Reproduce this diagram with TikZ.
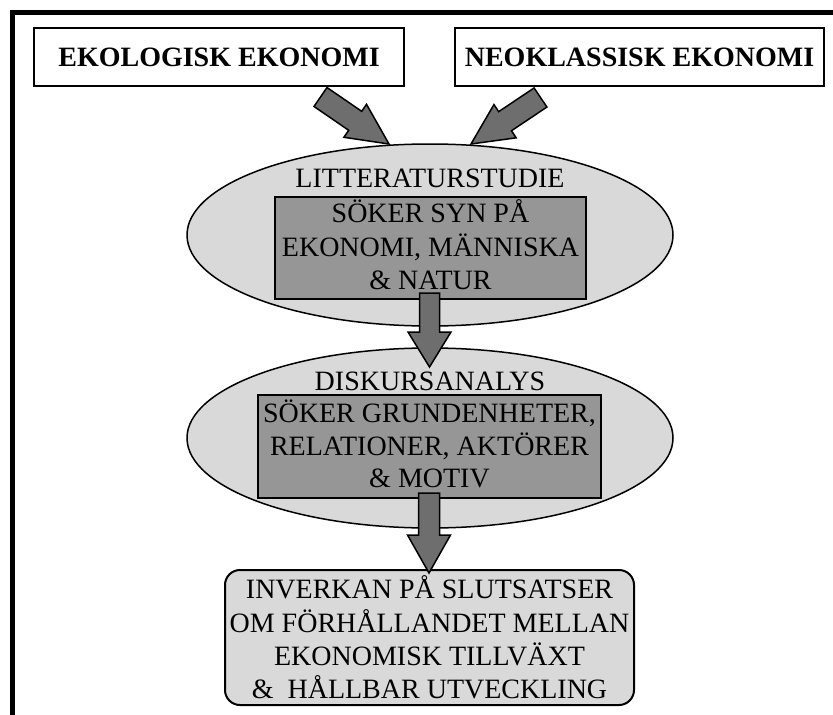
\documentclass[tikz,border=0pt]{standalone}
\usepackage{fontspec}
\setmainfont{Liberation Serif}
\usetikzlibrary{shapes.geometric,calc}
\definecolor{lightg}{HTML}{D9D9D9}
\definecolor{midg}{HTML}{969696}
\definecolor{darkg}{HTML}{6E6E6E}
\tikzset{
  txt/.style={font=\fontsize{28pt}{32.5pt}\selectfont},
  srcbox/.style={draw, line width=2pt, fill=white, minimum width=#1, minimum height=58pt, inner sep=0pt, font=\fontsize{28pt}{32pt}\selectfont\bfseries},
  oval/.style={ellipse, draw, line width=1.5pt, fill=lightg, minimum width=486pt, minimum height=#1, inner sep=0pt},
  innerbox/.style={draw, line width=2pt, fill=midg, align=center, inner sep=0pt, txt},
  resultbox/.style={draw, line width=2pt, fill=lightg, rounded corners=15pt, align=center, inner sep=0pt, minimum width=409pt, minimum height=135pt, font=\fontsize{28pt}{33.3pt}\selectfont},
  barrow/.style={draw, line width=1.5pt, fill=darkg, line join=miter},
  frame/.style={line width=4.5pt, line join=miter}
}
\newcommand{\blockarrow}[5]{%
  \coordinate (hb) at ($(#2)!#5!(#1)$);
  \draw[barrow] ($(#1)!#3!90:(#2)$) -- ($(hb)!#3!90:(#2)$) -- ($(hb)!#4!90:(#2)$) -- (#2)
    -- ($(hb)!#4!-90:(#2)$) -- ($(hb)!#3!-90:(#2)$) -- ($(#1)!#3!-90:(#2)$) -- cycle;}
\begin{document}
\begin{tikzpicture}[x=1pt,y=-1pt]
\useasboundingbox (0,0) rectangle (833,715);
\fill[white] (0,0) rectangle (833,715);
\draw[frame] (12.5,715) |- (833,12.5);

\node[srcbox=370pt] (eko) at (219,57) {EKOLOGISK EKONOMI};
\node[srcbox=369pt] (neo) at (639.5,57) {NEOKLASSISK EKONOMI};

\node[oval=182pt] (lit) at (430,235) {};
\node[txt, anchor=base] (littitle) at (430,187) {LITTERATURSTUDIE};
\node[innerbox, minimum width=311pt, minimum height=102pt] (litbox) at (430.5,248)
  {SÖKER SYN PÅ\\[1.5pt]EKONOMI, MÄNNISKA\\\& NATUR\rule[-7pt]{0pt}{7pt}};

\node[oval=180pt] (disk) at (430,438) {};
\node[txt, anchor=base] (disktitle) at (430,390) {DISKURSANALYS};
\node[innerbox, minimum width=343pt, minimum height=103pt] (diskbox) at (429.5,446.5)
  {SÖKER GRUNDENHETER,\\RELATIONER, AKTÖRER\\\& MOTIV\rule[-5pt]{0pt}{5pt}};

\node[resultbox] (res) at (429.5,637.5)
  {INVERKAN PÅ SLUTSATSER\\OM FÖRHÅLLANDET MELLAN\\EKONOMISK TILLVÄXT\\\&\ \ HÅLLBAR UTVECKLING};

\coordinate (a1t) at (320.5,97);
\coordinate (a1h) at (389,144);
\coordinate (a2t) at (540.5,97.5);
\coordinate (a2h) at (471,144);
\coordinate (a3t) at (429.5,293);
\coordinate (a3h) at (429.5,367);
\coordinate (a4t) at (429,493);
\coordinate (a4h) at (429,573);

\blockarrow{a1t}{a1h}{11.5pt}{20pt}{41pt}
\blockarrow{a2t}{a2h}{11.5pt}{20pt}{41pt}
\blockarrow{a3t}{a3h}{10pt}{21.5pt}{35pt}
\blockarrow{a4t}{a4h}{10.5pt}{21.5pt}{38pt}
\end{tikzpicture}
\end{document}
